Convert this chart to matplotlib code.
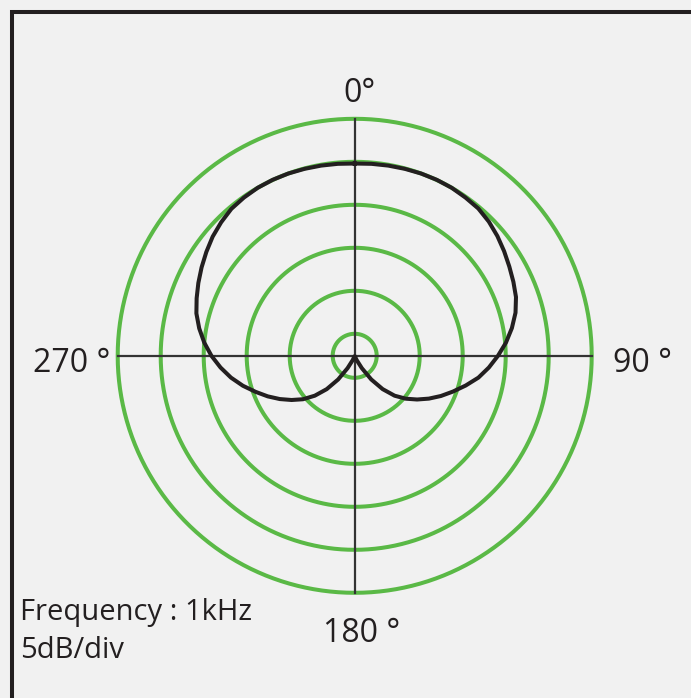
import numpy as np
import matplotlib
matplotlib.use("Agg")
import matplotlib.pyplot as plt
from matplotlib.patches import Rectangle

# ---- data ----
ring_levels_db = [-25, -20, -15, -10, -5, 0]          # 5 dB / div
axis_angles_deg = [0, 90, 180, 270]
r_min_db = -27.56
r_max_db = 0

right_theta_deg = [0, 5, 10, 15, 20, 25, 30, 35, 40, 45, 50, 55, 60, 65, 70,
                   75, 80, 85, 90, 95, 100, 105, 110, 115, 120, 125, 130,
                   135, 140, 145, 150, 155, 160, 170, 180]
right_db = [-5.2, -5.15, -5.1, -5.05, -5.0, -4.98, -5.0, -5.1, -5.2, -5.5,
            -5.9, -6.35, -6.8, -7.2, -7.6, -8.2, -9.0, -9.9, -10.9, -11.9,
            -12.95, -14.2, -15.4, -16.5, -17.6, -18.7, -19.8, -21.0, -22.5,
            -24.2, -25.9, -27.0, -27.5, -27.5, -27.5]
left_theta_deg = [190, 200, 205, 210, 215, 220, 225, 230, 235, 240, 245, 250,
                  255, 260, 265, 270, 275, 280, 285, 290, 295, 300, 305, 310,
                  315, 320, 325, 330, 335, 340, 345, 350, 355, 360]
left_db = [-27.5, -27.5, -27.0, -25.9, -24.2, -22.5, -21.0, -19.7, -18.6,
           -17.5, -16.4, -15.3, -14.1, -12.95, -11.9, -10.9, -10.0, -9.2,
           -8.5, -8.0, -7.5, -7.0, -6.5, -6.0, -5.6, -5.25, -5.1, -5.0,
           -4.98, -5.0, -5.05, -5.1, -5.15, -5.2]

angle_labels = ["0°", "90 °", "180 °", "270 °"]
info_lines = ["Frequency : 1kHz", "5dB/div"]

# ---- style ----
BG = "#f1f1f1"
GREEN = "#5ab946"
INK = "#231f20"
W, H = 691, 698
FONT = "Open Sans"

fig = plt.figure(figsize=(W / 100, H / 100), dpi=100, facecolor=BG)

cx, cy, R = 354.7, 355.8, 237.0
ax = fig.add_axes([(cx - R) / W, (H - cy - R) / H, 2 * R / W, 2 * R / H],
                  projection="polar")
ax.set_facecolor("none")
ax.set_theta_zero_location("N")
ax.set_theta_direction(-1)
ax.set_rlim(r_min_db, r_max_db)
ax.grid(False)
ax.set_xticks([])
ax.set_yticks([])
ax.spines["polar"].set_visible(False)

full = np.linspace(0, 2 * np.pi, 721)
for lvl in ring_levels_db:
    ax.plot(full, np.full_like(full, lvl), color=GREEN, lw=2.9,
            solid_capstyle="butt", zorder=1, clip_on=False)

for a in axis_angles_deg:
    t = np.deg2rad(a)
    ax.plot([t, t], [r_min_db, r_max_db], color="#333333", lw=1.6,
            zorder=2, clip_on=False)

theta = np.deg2rad(np.array(right_theta_deg + left_theta_deg))
vals = np.array(right_db + left_db)
ax.plot(theta, vals, color=INK, lw=2.9, zorder=3, clip_on=False,
        solid_joinstyle="round")

# frame (left and top edges visible)
fig.add_artist(Rectangle((11.5 / W, -0.5), 2.0, (1 - 11.7 / H) + 0.5,
                         transform=fig.transFigure, fill=False,
                         edgecolor=INK, lw=2.9))


def ptext(x, y, s, size):
    fig.text(x / W, 1 - y / H, s, ha="left", va="baseline", fontsize=size,
             family=FONT, color=INK)


label_pos = [(343, 102), (613, 372), (323, 642), (33, 372)]
for (x, y), s in zip(label_pos, angle_labels):
    ptext(x, y, s, 23)

ptext(20, 620, info_lines[0], 21)
ptext(20, 658, info_lines[1], 21)

fig.savefig("out.png", dpi=100, facecolor=BG)
